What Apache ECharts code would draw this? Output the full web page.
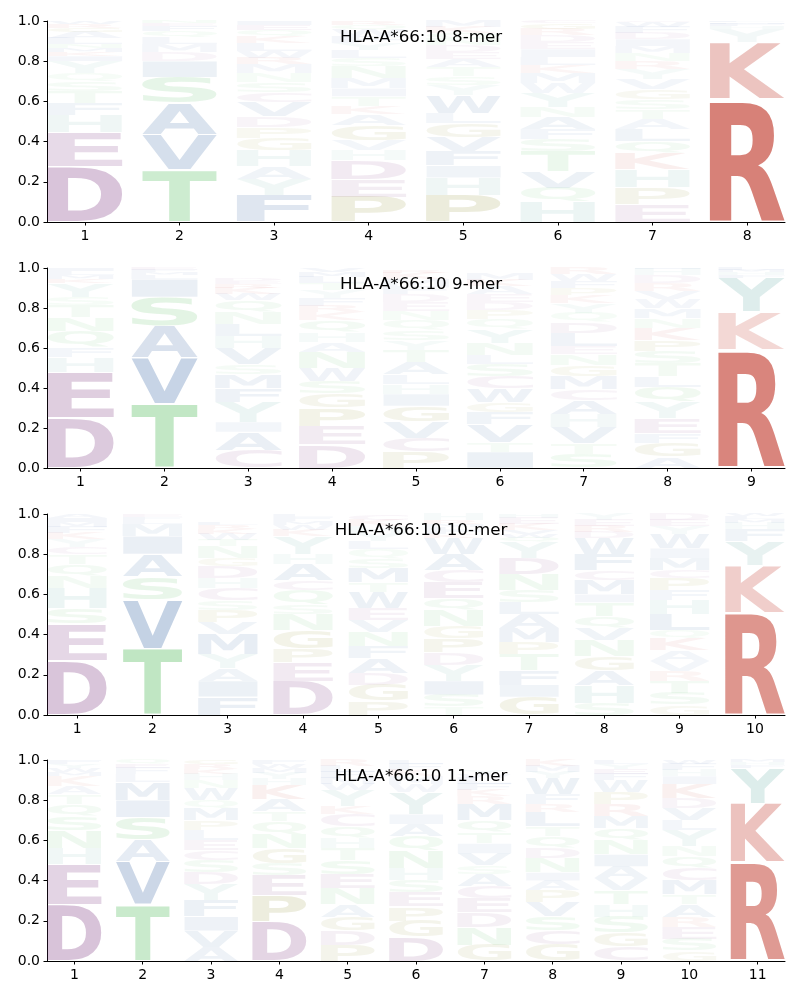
<!DOCTYPE html>
<html>
<head>
<meta charset="utf-8">
<script src="https://cdn.jsdelivr.net/npm/echarts@6/dist/echarts.min.js"></script>
<style>
  html, body { margin: 0; padding: 0; background: #fff; }
  #main { width: 800px; height: 1000px; }
</style>
</head>
<body>
<div id="main"></div>
<script>
// letters of each stack, bottom to top, and their heights (probabilities)
const mer8Letters = ['DEHFTSQYIKMNLAGRW', 'TVASIDMLQFEN', 'FYAHGPDVCSNMRWLKQEI', 'PEDHVGAKTIMNSLYFWQR',
  'PHIFVGLWYSTAEDNQKM', 'HQVTSFANYWMKLIEDRGC', 'EPHKQLATSGVYRNMIDFWC', 'RKYHFML'];
const mer8Values = [
  [.275, .17, .085, .06, .06, .05, .04, .06, .025, .02, .02, .02, .03, .03, .02, .02, .015],
  [.26, .175, .155, .13, .08, .045, .04, .035, .03, .025, .015, .01],
  [.135, .08, .06, .08, .06, .055, .055, .07, .05, .05, .045, .045, .03, .035, .04, .035, .03, .025, .02],
  [.125, .085, .095, .05, .05, .075, .055, .04, .05, .04, .05, .06, .04, .04, .035, .035, .03, .025, .02],
  [.135, .085, .06, .07, .07, .07, .05, .09, .05, .045, .045, .04, .035, .035, .03, .03, .03, .03],
  [.1, .07, .08, .1, .06, .05, .06, .05, .07, .05, .05, .04, .04, .04, .035, .035, .03, .03, .01],
  [.09, .08, .09, .08, .06, .06, .05, .05, .05, .05, .05, .05, .04, .04, .035, .035, .03, .03, .025, .005],
  [.61, .285, .065, .015, .01, .008, .007]
];
const mer9Letters = ['DEHFQNTSYKMLI', 'TVASILMFE', 'CAIYFMSVHLNQWKRED', 'DEPGSWNAHQKRFYTLMV', 'PCVGIHLATYSQNEDFMKR',
  'ITVFGWCSLNYQPDEAKM', 'STVHACMGNELDQYKPFWR', 'AGFEYQLTSPKNMWVRDHI', 'RKYFHML'];
const mer9Values = [
  [.25, .23, .075, .05, .08, .07, .06, .04, .07, .02, .02, .02, .015],
  [.32, .23, .16, .145, .09, .02, .015, .01, .01],
  [.09, .09, .05, .1, .07, .07, .05, .08, .06, .06, .06, .06, .03, .03, .02, .015, .015],
  [.117, .093, .09, .07, .065, .065, .08, .05, .05, .06, .04, .03, .04, .04, .035, .03, .025, .02],
  [.08, .07, .08, .08, .06, .05, .05, .06, .06, .05, .05, .05, .045, .045, .04, .04, .035, .03, .015],
  [.08, .05, .09, .06, .05, .07, .06, .06, .045, .06, .07, .05, .045, .04, .04, .04, .03, .03],
  [.07, .055, .08, .065, .07, .055, .065, .055, .055, .04, .065, .055, .045, .05, .04, .035, .035, .035, .03],
  [.055, .07, .05, .075, .08, .075, .055, .065, .06, .055, .06, .05, .05, .045, .04, .04, .04, .03, .005],
  [.59, .19, .17, .015, .015, .01, .01]
];
const mer10Letters = ['DESHNQTCYKFMIA', 'TVSAIMLFE', 'FIAYMVPSCHDGNTWKRL', 'DEPGNSQCAHYKWMFL', 'PGDAFNVEWTMSQLYHKC',
  'TSIYDPGNQECAWKFLMRH', 'GIFTPMALSNDYQWVKEH', 'SHAGNVQTIMCFWDREY', 'GSTRVAKQLHFPCMIWYED', 'RKYFHMLW'];
const mer10Values = [
  [.27, .185, .075, .1, .06, .06, .05, .035, .04, .03, .03, .025, .02, .02],
  [.33, .245, .115, .11, .09, .06, .02, .015, .015],
  [.09, .08, .06, .07, .1, .06, .06, .05, .06, .05, .06, .04, .06, .03, .03, .025, .02, .015],
  [.165, .095, .07, .09, .08, .05, .07, .05, .08, .05, .09, .03, .025, .02, .02, .015],
  [.07, .08, .06, .07, .06, .07, .06, .06, .08, .05, .07, .05, .045, .04, .04, .035, .03, .03],
  [.04, .06, .07, .08, .06, .07, .06, .08, .06, .08, .06, .08, .08, .02, .02, .015, .015, .02, .03],
  [.09, .06, .07, .08, .06, .07, .07, .06, .06, .08, .08, .08, .02, .02, .02, .03, .03, .02],
  [.06, .09, .07, .07, .08, .06, .06, .07, .04, .07, .05, .08, .08, .03, .03, .03, .03],
  [.05, .06, .06, .05, .05, .05, .06, .04, .08, .07, .05, .06, .04, .06, .05, .07, .04, .03, .03],
  [.51, .235, .12, .06, .03, .02, .015, .01]
];
const mer11Letters = ['DEHNSQTAKMWYF', 'TVASIMLFEQ', 'AVIFYDSCELPMQWNHKRG', 'DPESGNQTAKHYMWF', 'PDGANESTHQCKYWMFLR',
  'DGPESHNQAIYWMKFL', 'GNDECASVITQMRKFLWY', 'GCSVPAINDQTLRFWYMK', 'CGSHTVAINQMRPWFEYL', 'GSERATMCQNYLVDKIHFW', 'RKYFHM'];
const mer11Values = [
  [.28, .2, .08, .09, .07, .06, .05, .04, .05, .02, .02, .02, .02],
  [.28, .215, .105, .115, .085, .09, .04, .03, .02, .02],
  [.07, .08, .07, .08, .08, .06, .06, .05, .05, .05, .05, .06, .04, .06, .04, .03, .025, .025, .02],
  [.195, .13, .1, .06, .075, .07, .065, .05, .06, .07, .03, .03, .025, .02, .02],
  [.08, .07, .07, .06, .08, .07, .07, .06, .05, .06, .06, .04, .08, .03, .03, .03, .03, .03],
  [.12, .08, .07, .07, .06, .06, .09, .07, .06, .05, .11, .04, .04, .03, .03, .02],
  [.08, .09, .07, .07, .06, .06, .045, .06, .05, .055, .06, .08, .04, .03, .03, .03, .02, .02],
  [.08, .07, .07, .07, .06, .05, .04, .07, .05, .06, .05, .07, .04, .05, .08, .03, .03, .03],
  [.07, .07, .08, .06, .07, .06, .06, .06, .07, .06, .06, .06, .06, .06, .03, .025, .025, .02],
  [.05, .06, .06, .05, .06, .05, .07, .06, .06, .05, .08, .05, .06, .05, .07, .04, .03, .03, .02],
  [.49, .295, .175, .015, .015, .01]
];
const titles = ['HLA-A*66:10 8-mer', 'HLA-A*66:10 9-mer', 'HLA-A*66:10 10-mer', 'HLA-A*66:10 11-mer'];
const yTicks = [0, 0.2, 0.4, 0.6, 0.8, 1.0];

// colour groups
const groupColor = {
  red: [196, 67, 54], purple: [128, 61, 131], green: [81, 187, 90],
  blue: [37, 87, 155], teal: [80, 160, 152], olive: [130, 130, 20]
};
const letterGroup = {
  R: 'red', K: 'red', D: 'purple', E: 'purple', C: 'purple',
  T: 'green', S: 'green', Q: 'green', N: 'green',
  A: 'blue', V: 'blue', I: 'blue', L: 'blue', M: 'blue', F: 'blue', W: 'blue',
  H: 'teal', Y: 'teal', P: 'olive', G: 'olive'
};
const ALPHABET = 'ACDEFGHIKLMNPQRSTVWY';
const FONT = 'bold 200px "DejaVu Sans"';
const HALF = 0.395;  // half width of a letter column
const VPAD = 0.04;   // vertical padding, fraction of letter height

// ink box of each glyph, measured once
const measureCtx = document.createElement('canvas').getContext('2d');
measureCtx.font = FONT;
measureCtx.textBaseline = 'middle';
measureCtx.textAlign = 'left';
const glyph = {};
for (const ch of ALPHABET) {
  const m = measureCtx.measureText(ch);
  const left = -m.actualBoundingBoxLeft, right = m.actualBoundingBoxRight;
  const top = -m.actualBoundingBoxAscent, bottom = m.actualBoundingBoxDescent;
  glyph[ch] = { left: left, top: top, w: right - left, h: bottom - top };
}

function letterFill(ch, h) {
  const c = groupColor[letterGroup[ch]];
  const a = Math.min(1, Math.max(0.05, 1.1 * h));
  return 'rgba(' + c[0] + ',' + c[1] + ',' + c[2] + ',' + a.toFixed(3) + ')';
}

function stackData(letters, values) {
  const out = [];
  letters.forEach(function (str, i) {
    let y = 0;
    for (let j = 0; j < str.length; j++) {
      const v = values[i][j];
      out.push([i + 1, y, y + v, ALPHABET.indexOf(str[j])]);
      y += v;
    }
  });
  return out;
}

function renderLetter(params, api) {
  const x = api.value(0), y0 = api.value(1), y1 = api.value(2);
  const ch = ALPHABET[api.value(3)];
  const h = y1 - y0;
  const pad = h * VPAD / 2;
  const p0 = api.coord([x - HALF, y1 - pad]);
  const p1 = api.coord([x + HALF, y0 + pad]);
  const g = glyph[ch];
  const sx = (p1[0] - p0[0]) / g.w;
  const sy = (p1[1] - p0[1]) / g.h;
  return {
    type: 'text',
    x: p0[0] - g.left * sx,
    y: p0[1] - g.top * sy,
    scaleX: sx,
    scaleY: sy,
    silent: true,
    style: {
      text: ch, font: FONT, fill: letterFill(ch, h),
      align: 'left', verticalAlign: 'middle', textAlign: 'left', textVerticalAlign: 'middle'
    }
  };
}

const panels = [
  { letters: mer8Letters, values: mer8Values, top: 21, height: 201 },
  { letters: mer9Letters, values: mer9Values, top: 268, height: 200 },
  { letters: mer10Letters, values: mer10Values, top: 514, height: 201 },
  { letters: mer11Letters, values: mer11Values, top: 760, height: 201 }
];

const labelStyle = { fontFamily: 'DejaVu Sans', fontSize: 14, color: '#000' };
const grid = [], xAxis = [], yAxis = [], title = [], series = [];
panels.forEach(function (p, k) {
  const n = p.letters.length;
  const ticks = [];
  for (let i = 1; i <= n; i++) ticks.push(i);
  grid.push({ left: 47, right: 15, top: p.top, height: p.height });
  xAxis.push({
    type: 'value', gridIndex: k, min: 0.6, max: n + 0.4,
    axisLine: { lineStyle: { color: '#000', width: 1 } },
    axisTick: { customValues: ticks, length: 3.5, lineStyle: { color: '#000' } },
    axisLabel: Object.assign({ customValues: ticks, margin: 7 }, labelStyle),
    splitLine: { show: false }
  });
  yAxis.push({
    type: 'value', gridIndex: k, min: 0, max: 1,
    axisLine: { show: true, lineStyle: { color: '#000', width: 1 } },
    axisTick: { show: true, customValues: yTicks, length: 3.5, lineStyle: { color: '#000' } },
    axisLabel: Object.assign({ customValues: yTicks, margin: 7, formatter: function (v) { return v.toFixed(1); } }, labelStyle),
    splitLine: { show: false }
  });
  title.push({
    text: titles[k], left: 416, top: p.top + 3, textAlign: 'center',
    textStyle: { fontFamily: 'DejaVu Sans', fontSize: 16.7, fontWeight: 'normal', color: '#000' }
  });
  series.push({
    type: 'custom', xAxisIndex: k, yAxisIndex: k, z: 1,
    renderItem: renderLetter,
    data: stackData(p.letters, p.values),
    animation: false
  });
});

const chart = echarts.init(document.getElementById('main'), null, { renderer: 'canvas' });
chart.setOption({
  backgroundColor: '#fff',
  animation: false,
  title: title,
  grid: grid,
  xAxis: xAxis,
  yAxis: yAxis,
  series: series
});
</script>
</body>
</html>
